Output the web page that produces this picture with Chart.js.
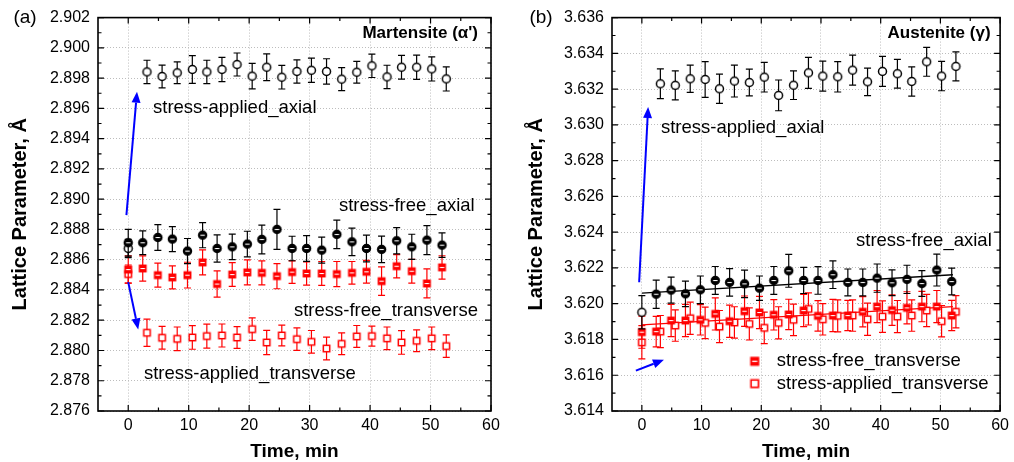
<!DOCTYPE html>
<html>
<head>
<meta charset="utf-8">
<script src="https://cdn.jsdelivr.net/npm/chart.js@4.4.1/dist/chart.umd.min.js"></script>
<style>
    html, body { margin: 0; padding: 0; background: #fff; }
    #wrap { position: relative; width: 1014px; height: 462px; overflow: hidden; }
    canvas { position: absolute; top: 0; }
    #chartA { left: 0; }
    #chartB { left: 516px; }
</style>
</head>
<body>
<div id="wrap">
    <canvas id="chartA" width="507" height="462" style="width:507px;height:462px"></canvas>
    <canvas id="chartB" width="498" height="462" style="width:498px;height:462px"></canvas>
</div>
<script>
// time axis (min)
const timeFree = [0, 2.4, 4.9, 7.3, 9.8, 12.3, 14.7, 17.2, 19.7, 22.1, 24.6, 27.1, 29.5, 32.0, 34.5, 37.0, 39.4, 41.9, 44.4, 46.9, 49.4, 51.9];
const timeApplied = [0, 3.1, 5.6, 8.1, 10.6, 13.0, 15.5, 18.0, 20.5, 22.9, 25.4, 27.9, 30.3, 32.8, 35.3, 37.8, 40.3, 42.8, 45.2, 47.7, 50.2, 52.6];
const xTicks = [0, 10, 20, 30, 40, 50, 60];

// (a) Martensite
const martYTicks = [2.876, 2.878, 2.880, 2.882, 2.884, 2.886, 2.888, 2.890, 2.892, 2.894, 2.896, 2.898, 2.900, 2.902];
const martFreeAxial = [2.88712, 2.88712, 2.88747, 2.88736, 2.88657, 2.88762, 2.88674, 2.88685, 2.88703, 2.88734, 2.88800, 2.88674, 2.88674, 2.88663, 2.88767, 2.88718, 2.88674, 2.88668, 2.88725, 2.88685, 2.88729, 2.88696];
const martFreeAxialErr = [0.00088, 0.00079, 0.00085, 0.00083, 0.00083, 0.00083, 0.00090, 0.00084, 0.00085, 0.00095, 0.00132, 0.00081, 0.00085, 0.00086, 0.00094, 0.00091, 0.00088, 0.00088, 0.00087, 0.00083, 0.00096, 0.00081];
const martAppliedAxial = [2.88674, 2.89841, 2.89811, 2.89835, 2.89857, 2.89841, 2.89857, 2.89890, 2.89813, 2.89872, 2.89806, 2.89844, 2.89852, 2.89844, 2.89793, 2.89839, 2.89881, 2.89808, 2.89872, 2.89872, 2.89861, 2.89795];
const martAppliedAxialErr = [0.00060, 0.00077, 0.00075, 0.00072, 0.00092, 0.00077, 0.00080, 0.00076, 0.00084, 0.00088, 0.00078, 0.00077, 0.00080, 0.00084, 0.00076, 0.00072, 0.00077, 0.00077, 0.00078, 0.00080, 0.00080, 0.00080];
const martFreeTrans = [2.88535, 2.88542, 2.88498, 2.88483, 2.88498, 2.88582, 2.88439, 2.88502, 2.88516, 2.88513, 2.88491, 2.88518, 2.88509, 2.88509, 2.88505, 2.88513, 2.88520, 2.88458, 2.88557, 2.88524, 2.88443, 2.88549];
const martFreeTransErr = [0.00090, 0.00083, 0.00079, 0.00076, 0.00085, 0.00083, 0.00087, 0.00079, 0.00083, 0.00079, 0.00083, 0.00074, 0.00077, 0.00079, 0.00083, 0.00075, 0.00075, 0.00094, 0.00077, 0.00079, 0.00096, 0.00077];
const martAppliedTrans = [2.88505, 2.88117, 2.88084, 2.88077, 2.88086, 2.88095, 2.88099, 2.88086, 2.88141, 2.88053, 2.88099, 2.88075, 2.88057, 2.88013, 2.88044, 2.88093, 2.88095, 2.88080, 2.88053, 2.88064, 2.88080, 2.88029];
const martAppliedTransErr = [0.00060, 0.00090, 0.00075, 0.00078, 0.00078, 0.00079, 0.00076, 0.00072, 0.00074, 0.00080, 0.00069, 0.00074, 0.00075, 0.00075, 0.00072, 0.00072, 0.00066, 0.00075, 0.00078, 0.00072, 0.00075, 0.00074];

// (b) Austenite
const austYTicks = [3.614, 3.616, 3.618, 3.620, 3.622, 3.624, 3.626, 3.628, 3.630, 3.632, 3.634, 3.636];
const austFreeAxial = [null, 3.62053, 3.62076, 3.62055, 3.62078, 3.62130, 3.62119, 3.62111, 3.62087, 3.62130, 3.62184, 3.62130, 3.62130, 3.62162, 3.62119, 3.62119, 3.62143, 3.62117, 3.62136, 3.62113, 3.62188, 3.62124];
const austFreeAxialErr = [null, 0.00079, 0.00073, 0.00071, 0.00077, 0.00078, 0.00077, 0.00077, 0.00068, 0.00078, 0.00092, 0.00073, 0.00077, 0.00077, 0.00075, 0.00075, 0.00079, 0.00072, 0.00079, 0.00072, 0.00089, 0.00075];
const austAppliedAxial = [3.61952, 3.63230, 3.63221, 3.63258, 3.63254, 3.63202, 3.63245, 3.63237, 3.63267, 3.63165, 3.63222, 3.63291, 3.63273, 3.63269, 3.63306, 3.63241, 3.63299, 3.63286, 3.63243, 3.63353, 3.63273, 3.63327];
const austAppliedAxialErr = [0.00093, 0.00083, 0.00081, 0.00076, 0.00100, 0.00082, 0.00089, 0.00075, 0.00083, 0.00086, 0.00080, 0.00087, 0.00084, 0.00085, 0.00084, 0.00077, 0.00084, 0.00080, 0.00082, 0.00081, 0.00082, 0.00081];
const austFreeTrans = [3.61841, 3.61844, 3.61906, 3.61906, 3.61910, 3.61943, 3.61902, 3.61958, 3.61951, 3.61938, 3.61940, 3.61962, 3.61932, 3.61934, 3.61934, 3.61955, 3.61984, 3.61964, 3.61977, 3.61984, 3.61984, 3.61934];
const austFreeTransErr = [0.00090, 0.00085, 0.00090, 0.00090, 0.00085, 0.00090, 0.00090, 0.00085, 0.00090, 0.00085, 0.00085, 0.00090, 0.00085, 0.00090, 0.00085, 0.00085, 0.00090, 0.00085, 0.00090, 0.00085, 0.00090, 0.00085];
const austAppliedTrans = [3.61784, 3.61844, 3.61878, 3.61919, 3.61893, 3.61872, 3.61895, 3.61887, 3.61865, 3.61893, 3.61910, 3.61971, 3.61913, 3.61932, 3.61934, 3.61913, 3.61928, 3.61928, 3.61934, 3.61962, 3.61902, 3.61955];
const austAppliedTransErr = [0.00093, 0.00090, 0.00088, 0.00090, 0.00088, 0.00090, 0.00088, 0.00090, 0.00088, 0.00090, 0.00088, 0.00090, 0.00088, 0.00090, 0.00088, 0.00090, 0.00088, 0.00090, 0.00088, 0.00090, 0.00088, 0.00090];
// linear fits drawn in panel (b)
const fitTime = [0, 52.1];
const austFreeAxialFit = [3.62059, 3.62162];
const austFreeTransFit = [3.61882, 3.61984];

const RED = '#ff0000';
const BLUE = '#0000ff';
Chart.defaults.font.family = "'Liberation Sans', Arial, sans-serif";
Chart.defaults.color = '#000';

function makeMarker(shape, color, filled) {
    const c = document.createElement('canvas');
    c.width = 13;
    c.height = 13;
    const g = c.getContext('2d');
    g.lineWidth = 1.5;
    g.strokeStyle = color;
    g.fillStyle = filled ? color : '#fff';
    if (shape === 'circle') {
        g.beginPath();
        g.arc(6.5, 6.5, 4.0, 0, 2 * Math.PI);
        g.fill();
        g.stroke();
    } else {
        g.fillRect(3.3, 3.3, 6.4, 6.4);
        g.strokeRect(3.3, 3.3, 6.4, 6.4);
    }
    if (filled) {
        g.fillStyle = '#fff';
        g.fillRect(4.3, 6, 4.4, 1.1);
    }
    return c;
}

const markers = {
    circleFilled: makeMarker('circle', '#000', true),
    circleOpen: makeMarker('circle', '#000', false),
    squareFilled: makeMarker('square', RED, true),
    squareOpen: makeMarker('square', RED, false)
};

function pts(ts, vs) {
    return ts.map((t, i) => ({ x: t, y: vs[i] }));
}

function series(ts, vs, errs, marker, errColor) {
    return {
        data: pts(ts, vs),
        errors: errs,
        errorColor: errColor,
        pointStyle: markers[marker],
        pointRadius: 4,
        showLine: false
    };
}

function fitLine(vs, color) {
    return {
        type: 'line',
        data: pts(fitTime, vs),
        borderColor: color,
        borderWidth: 1.3,
        pointRadius: 0,
        fill: false
    };
}

// vertical error bars, drawn under each dataset's markers
const errorBarPlugin = {
    id: 'errorBars',
    beforeDatasetDraw(chart, args) {
        const ds = chart.data.datasets[args.index];
        if (!ds.errors) return;
        const { ctx, scales: { x, y } } = chart;
        ctx.save();
        ctx.strokeStyle = ds.errorColor;
        ctx.lineWidth = 1.2;
        ds.data.forEach((p, i) => {
            if (p.y == null) return;
            const px = x.getPixelForValue(p.x);
            const top = y.getPixelForValue(p.y + ds.errors[i]);
            const bot = y.getPixelForValue(p.y - ds.errors[i]);
            ctx.beginPath();
            ctx.moveTo(px, top); ctx.lineTo(px, bot);
            ctx.moveTo(px - 3.5, top); ctx.lineTo(px + 3.5, top);
            ctx.moveTo(px - 3.5, bot); ctx.lineTo(px + 3.5, bot);
            ctx.stroke();
        });
        ctx.restore();
    }
};

// box frame with inward major/minor ticks on all four sides
const framePlugin = {
    id: 'frame',
    afterDatasetsDraw(chart) {
        const { ctx, chartArea: a, scales: { x, y } } = chart;
        const yTicks = chart.options.plugins.frame.yTicks;
        const mids = arr => arr.slice(1).map((v, i) => (v + arr[i]) / 2);
        ctx.save();
        ctx.strokeStyle = '#000';
        ctx.lineWidth = 1.2;
        ctx.beginPath();
        const xTick = (v, len) => {
            const px = x.getPixelForValue(v);
            ctx.moveTo(px, a.bottom); ctx.lineTo(px, a.bottom - len);
            ctx.moveTo(px, a.top); ctx.lineTo(px, a.top + len);
        };
        const yTick = (v, len) => {
            const py = y.getPixelForValue(v);
            ctx.moveTo(a.left, py); ctx.lineTo(a.left + len, py);
            ctx.moveTo(a.right, py); ctx.lineTo(a.right - len, py);
        };
        xTicks.forEach(v => xTick(v, 6));
        mids(xTicks).forEach(v => xTick(v, 3.5));
        yTicks.forEach(v => yTick(v, 6));
        mids(yTicks).forEach(v => yTick(v, 3.5));
        ctx.stroke();
        ctx.lineWidth = 1.6;
        ctx.strokeRect(a.left, a.top, a.right - a.left, a.bottom - a.top);
        ctx.restore();
    }
};

// panel letter, text labels, blue arrows, small legend
const annotPlugin = {
    id: 'annot',
    afterDraw(chart) {
        const cfg = chart.options.plugins.annot;
        const { ctx, scales: { x, y } } = chart;
        const fam = Chart.defaults.font.family;
        ctx.save();
        ctx.fillStyle = '#000';
        ctx.textBaseline = 'middle';
        ctx.font = '19px ' + fam;
        ctx.textAlign = 'center';
        ctx.fillText(cfg.panel, 25, 18);

        cfg.texts.forEach(t => {
            ctx.font = (t.bold ? 'bold 17px ' : '18.5px ') + fam;
            ctx.textAlign = t.align;
            ctx.fillText(t.text, x.getPixelForValue(t.x), y.getPixelForValue(t.y));
        });

        (cfg.legend || []).forEach(l => {
            const m = markers[l.marker];
            const s = 1.15;
            const mx = x.getPixelForValue(l.x), my = y.getPixelForValue(l.y);
            ctx.drawImage(m, mx - m.width * s / 2, my - m.height * s / 2, m.width * s, m.height * s);
            ctx.font = '18.5px ' + fam;
            ctx.textAlign = 'left';
            ctx.fillText(l.text, x.getPixelForValue(l.tx), my);
        });

        ctx.strokeStyle = BLUE;
        ctx.fillStyle = BLUE;
        ctx.lineWidth = 2;
        cfg.arrows.forEach(ar => {
            const x0 = x.getPixelForValue(ar.from[0]), y0 = y.getPixelForValue(ar.from[1]);
            const x1 = x.getPixelForValue(ar.to[0]), y1 = y.getPixelForValue(ar.to[1]);
            const ang = Math.atan2(y1 - y0, x1 - x0);
            const hl = 11, hw = 4.5;
            const bx = x1 - hl * Math.cos(ang), by = y1 - hl * Math.sin(ang);
            ctx.beginPath();
            ctx.moveTo(x0, y0);
            ctx.lineTo(bx, by);
            ctx.stroke();
            ctx.beginPath();
            ctx.moveTo(x1, y1);
            ctx.lineTo(bx + hw * Math.sin(ang), by - hw * Math.cos(ang));
            ctx.lineTo(bx - hw * Math.sin(ang), by + hw * Math.cos(ang));
            ctx.closePath();
            ctx.fill();
        });
        ctx.restore();
    }
};

function makePanel(canvasId, opts) {
    const ctx = document.getElementById(canvasId).getContext('2d');
    return new Chart(ctx, {
        type: 'scatter',
        data: { datasets: opts.datasets },
        options: {
            responsive: false,
            animation: false,
            events: [],
            layout: { padding: { top: 17, right: opts.rightPad, left: 0, bottom: 0 } },
            scales: {
                x: {
                    type: 'linear',
                    min: -5,
                    max: 60,
                    afterBuildTicks: s => { s.ticks = xTicks.map(v => ({ value: v })); },
                    afterFit: s => { s.height = 51; },
                    grid: { color: '#bdbdbd', lineWidth: 1, drawTicks: false },
                    border: { display: false, dash: [1, 2] },
                    ticks: { color: '#000', font: { size: 16 }, padding: 5, maxRotation: 0, callback: v => String(v) },
                    title: {
                        display: true,
                        text: 'Time, min',
                        color: '#000',
                        font: { size: 19, weight: 'bold', lineHeight: 1 },
                        padding: { top: 0, bottom: 0.5 }
                    }
                },
                y: {
                    type: 'linear',
                    min: opts.yTicks[0],
                    max: opts.yTicks[opts.yTicks.length - 1],
                    afterBuildTicks: s => { s.ticks = opts.yTicks.map(v => ({ value: v })); },
                    afterFit: s => { s.width = opts.yWidth; },
                    grid: { color: '#bdbdbd', lineWidth: 1, drawTicks: false },
                    border: { display: false, dash: [1, 2] },
                    ticks: { color: '#000', font: { size: 16 }, padding: 8, callback: v => v.toFixed(3) },
                    title: {
                        display: true,
                        text: 'Lattice Parameter, Å',
                        color: '#000',
                        font: { size: 20, weight: 'bold', lineHeight: 1 },
                        padding: { top: 10, bottom: 0 }
                    }
                }
            },
            plugins: {
                legend: { display: false },
                tooltip: { enabled: false },
                frame: { yTicks: opts.yTicks },
                annot: opts.annot
            }
        },
        plugins: [errorBarPlugin, framePlugin, annotPlugin]
    });
}

makePanel('chartA', {
    yTicks: martYTicks,
    yWidth: 98,
    rightPad: 16,
    datasets: [
        series(timeFree, martFreeAxial, martFreeAxialErr, 'circleFilled', '#000'),
        series(timeApplied, martAppliedAxial, martAppliedAxialErr, 'circleOpen', '#000'),
        series(timeFree, martFreeTrans, martFreeTransErr, 'squareFilled', RED),
        series(timeApplied, martAppliedTrans, martAppliedTransErr, 'squareOpen', RED)
    ],
    annot: {
        panel: '(a)',
        texts: [
            { text: "Martensite (α')", x: 57.85, y: 2.90095, align: 'right', bold: true },
            { text: 'stress-applied_axial', x: 4.1, y: 2.8960, align: 'left' },
            { text: 'stress-free_axial', x: 57.3, y: 2.88954, align: 'right' },
            { text: 'stress-free_transverse', x: 57.85, y: 2.88262, align: 'right' },
            { text: 'stress-applied_transverse', x: 2.6, y: 2.87848, align: 'left' }
        ],
        arrows: [
            { from: [-0.3, 2.88894], to: [1.45, 2.8971] },
            { from: [0, 2.88452], to: [1.65, 2.88139] }
        ]
    }
});

makePanel('chartB', {
    yTicks: austYTicks,
    yWidth: 96,
    rightPad: 10,
    datasets: [
        series(timeFree, austFreeAxial, austFreeAxialErr, 'circleFilled', '#000'),
        series(timeApplied, austAppliedAxial, austAppliedAxialErr, 'circleOpen', '#000'),
        series(timeFree, austFreeTrans, austFreeTransErr, 'squareFilled', RED),
        series(timeApplied, austAppliedTrans, austAppliedTransErr, 'squareOpen', RED),
        fitLine(austFreeAxialFit, '#000'),
        fitLine(austFreeTransFit, RED)
    ],
    annot: {
        panel: '(b)',
        texts: [
            { text: 'Austenite (γ)', x: 58.4, y: 3.63514, align: 'right', bold: true },
            { text: 'stress-applied_axial', x: 3.2, y: 3.62982, align: 'left' },
            { text: 'stress-free_axial', x: 58.6, y: 3.6235, align: 'right' }
        ],
        legend: [
            { marker: 'squareFilled', x: 18.9, y: 3.61678, text: 'stress-free_transverse', tx: 22.6 },
            { marker: 'squareOpen', x: 18.9, y: 3.61553, text: 'stress-applied_transverse', tx: 22.6 }
        ],
        arrows: [
            { from: [-0.45, 3.6212], to: [1.05, 3.6310] },
            { from: [-1.0, 3.61626], to: [3.7, 3.61686] }
        ]
    }
});
</script>
</body>
</html>
